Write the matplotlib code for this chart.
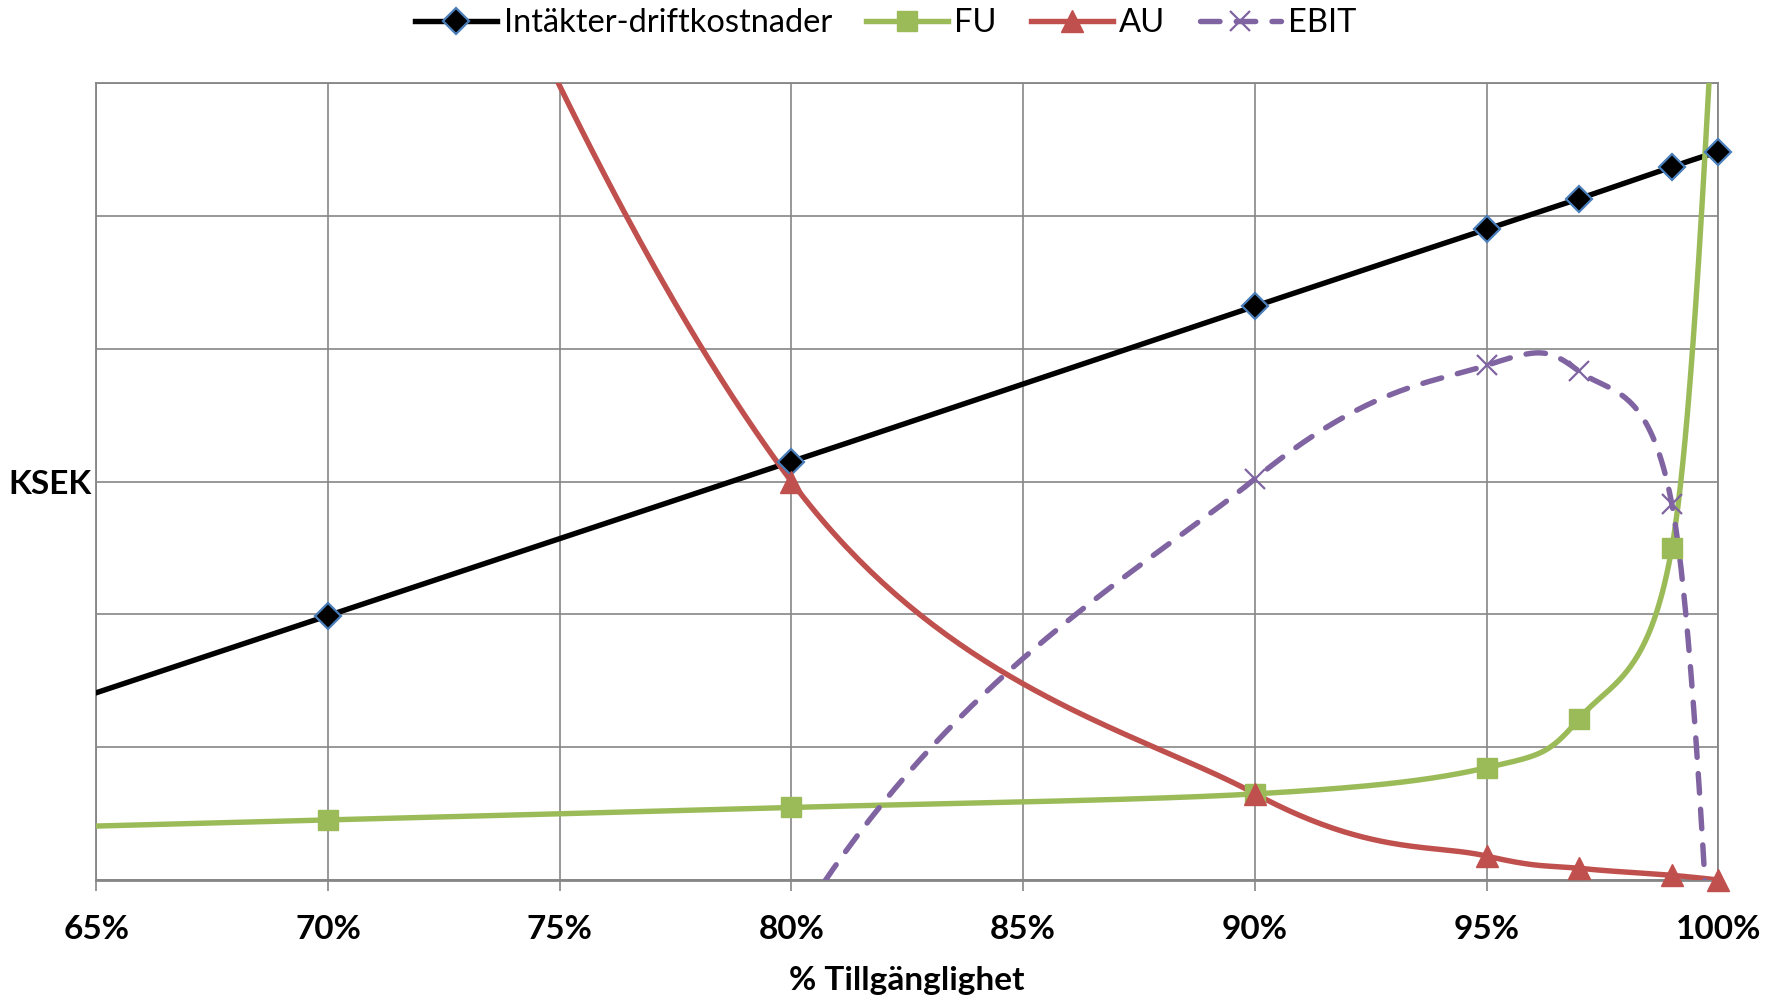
import numpy as np
import matplotlib
matplotlib.use("Agg")
import matplotlib.pyplot as plt
from matplotlib.lines import Line2D

# ---- data (KSEK in relative units) ----
availability = [60, 70, 80, 90, 95, 97, 99, 100]          # % Tillgänglighet
intakter = [0.83, 1.99, 3.15, 4.32, 4.90, 5.13, 5.37, 5.485]  # Intäkter-driftkostnader
fu = [0.36, 0.452, 0.546, 0.648, 0.845, 1.215, 2.50, 7.2]      # FU
au = [20.7, 10.0, 3.0, 0.65, 0.18, 0.088, 0.035, 0.0]         # AU
ebit = [-20.2, -8.5, -0.40, 3.02, 3.875, 3.83, 2.83, -1.7]    # EBIT
series_names = ["Intäkter-driftkostnader", "FU", "AU", "EBIT"]
xticks = [65, 70, 75, 80, 85, 90, 95, 100]
xtick_labels = ["65%", "70%", "75%", "80%", "85%", "90%", "95%", "100%"]
x_label = "% Tillgänglighet"
y_label = "KSEK"


def smooth(xs, ys, n=80):
    """Excel-like smoothed line (Catmull-Rom as cubic Bezier)."""
    P = np.column_stack([xs, ys]).astype(float)
    m = len(P)
    out = []
    for i in range(m - 1):
        p0 = P[i]
        p3 = P[i + 1]
        pm = P[i - 1] if i > 0 else P[i]
        pp = P[i + 2] if i + 2 < m else P[i + 1]
        p1 = p0 + (p3 - pm) / 6.0
        p2 = p3 - (pp - p0) / 6.0
        t = np.linspace(0, 1, n)[:, None]
        seg = ((1 - t) ** 3) * p0 + 3 * t * (1 - t) ** 2 * p1 + 3 * t ** 2 * (1 - t) * p2 + t ** 3 * p3
        out.append(seg if i == 0 else seg[1:])
    c = np.vstack(out)
    return c[:, 0], c[:, 1]


plt.rcParams['font.family'] = ['Lato', 'DejaVu Sans']

fig = plt.figure(figsize=(17.75, 10.02), dpi=100)
ax = fig.add_axes([0.0543, 0.1218, 0.9137, 0.7952])

GRID = "#868686"
DASH = (3.6, 3.0)
styles = [
    dict(color="#000000", marker="D", ms=13, mfc="#000000", mec="#4A7EBB", mew=1.6, ls="-"),
    dict(color="#9BBB59", marker="s", ms=14.5, mfc="#9BBB59", mec="#9BBB59", mew=1.0, ls="-"),
    dict(color="#C0504D", marker="^", ms=16, mfc="#C0504D", mec="#C0504D", mew=1.0, ls="-"),
    dict(color="#8064A2", marker="x", ms=15, mfc="#8064A2", mec="#8064A2", mew=1.6, ls="--"),
]
LW = 3.9
all_series = [intakter, fu, au, ebit]
xs = np.array(availability, dtype=float)
handles = []
for vals, st, name in zip(all_series, styles, series_names):
    cx, cy = smooth(xs, vals)
    if st["ls"] == "--":
        ln, = ax.plot(cx, cy, color=st["color"], lw=LW, zorder=3)
        ln.set_dashes(DASH)
        ln.set_dash_capstyle("round")
    else:
        ax.plot(cx, cy, color=st["color"], lw=LW, zorder=3, solid_capstyle="round")
    vals_a = np.array(vals, dtype=float)
    mask = (xs >= 65) & (xs <= 100) & (vals_a >= 0) & (vals_a <= 6)
    ax.plot(xs[mask], vals_a[mask], ls="none", marker=st["marker"], ms=st["ms"],
            mfc=st["mfc"], mec=st["mec"], mew=st["mew"], zorder=4, clip_on=False)
    h = Line2D([], [], color=st["color"], lw=LW, marker=st["marker"], ms=st["ms"],
               mfc=st["mfc"], mec=st["mec"], mew=st["mew"])
    if st["ls"] == "--":
        h.set_dashes(DASH)
        h.set_dash_capstyle("round")
    handles.append(h)

ax.set_xlim(65, 100)
ax.set_ylim(0, 6)
ax.set_xticks(xticks)
ax.set_xticklabels(xtick_labels)
ax.set_yticks(np.arange(0, 7, 1))
ax.set_yticklabels([])
ax.grid(True, color=GRID, lw=1.2, zorder=0)
ax.set_axisbelow(True)
for s in ax.spines.values():
    s.set_color(GRID)
    s.set_linewidth(1.3)
ax.spines["bottom"].set_linewidth(2.0)
ax.tick_params(axis="x", direction="out", length=8, width=1.2, color=GRID,
               pad=17, labelsize=24)
ax.tick_params(axis="y", length=0)
for lab in ax.get_xticklabels():
    lab.set_fontweight("bold")

fig.text(0.028, 0.516, y_label, fontsize=24, fontweight="bold", ha="center", va="center")
fig.text(0.511, 0.021, x_label, fontsize=24, fontweight="bold", ha="center", va="center")

fig.legend(handles=handles, labels=series_names, loc="center", bbox_to_anchor=(0.499, 0.977),
           ncol=4, frameon=False, fontsize=23.5, handlelength=2.5, handletextpad=0.2,
           columnspacing=1.05, borderaxespad=0)

fig.savefig("out.png", dpi=100)
